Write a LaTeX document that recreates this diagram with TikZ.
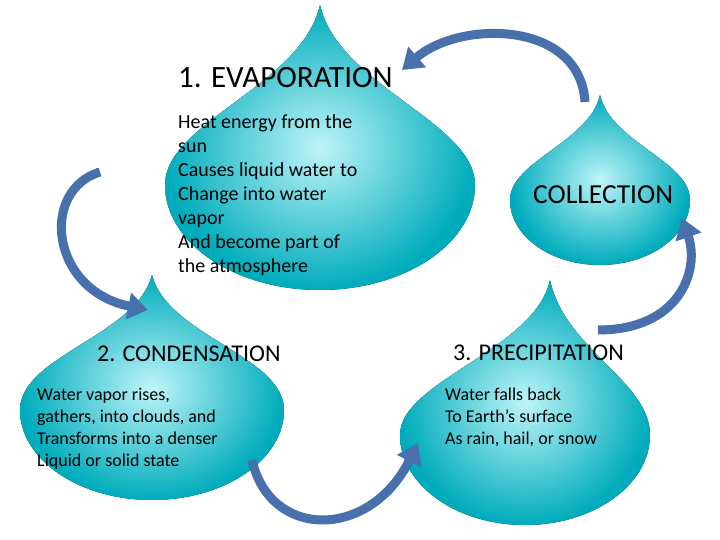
\documentclass[tikz,border=0pt]{standalone}
\usepackage{fontspec}
\setmainfont{Carlito}
\usetikzlibrary{arrows.meta}
\definecolor{dropout}{RGB}{0,172,188}
\definecolor{dropin}{RGB}{190,245,248}
\definecolor{arr}{RGB}{72,112,172}
\tikzset{
 dropfill/.style={inner color=dropin,outer color=dropout},
 flow/.style={draw=arr,line width=9pt,-{Triangle[length=20pt,width=26pt]}},
 ttl/.style={anchor=west,inner sep=0pt,font=\fontsize{24}{28}\selectfont},
 body/.style={anchor=north west,inner sep=0pt,align=left,font=\fontsize{18}{22}\selectfont}
}
\newcommand\wdrop[6]{%
\pgfmathsetmacro\Tx{#1+#6}\pgfmathsetmacro\Ty{#2-#5}%
\fill[dropfill] (\Tx,\Ty) .. controls (\Tx+0.12*#3,\Ty+0.45*#5) and (#1+#3,#2-0.6*#4) .. (#1+#3,#2)
 .. controls (#1+#3,#2+0.552*#4) and (#1+0.552*#3,#2+#4) .. (#1,#2+#4)
 .. controls (#1-0.552*#3,#2+#4) and (#1-#3,#2+0.552*#4) .. (#1-#3,#2)
 .. controls (#1-#3,#2-0.6*#4) and (\Tx-0.12*#3,\Ty+0.45*#5) .. cycle;}
\begin{document}
\begin{tikzpicture}[x=1pt,y=-1pt]
\useasboundingbox (0,0) rectangle (720,540);
\fill[white] (0,0) rectangle (720,540);
\wdrop{320}{185}{155}{105}{180}{0}
\wdrop{600}{200}{90}{65}{105}{0}
\wdrop{152}{410}{132}{90}{135}{0}
\wdrop{525}{435}{125}{90}{155}{25}
% texts
\node[ttl,font=\fontsize{31}{34}\selectfont] (t1) at (178,78) {1. EVAPORATION};
\node[body,font=\fontsize{20}{24}\selectfont] (b1) at (178,114) {Heat energy from the\\sun\\Causes liquid water to\\Change into water\\vapor\\And become part of\\the atmosphere};
\node[ttl,font=\fontsize{27.5}{30}\selectfont] (tc) at (533,195) {COLLECTION};
\node[ttl] (t2) at (97,354) {2. CONDENSATION};
\node[body] (b2) at (37,388) {Water vapor rises,\\gathers, into clouds, and\\Transforms into a denser\\Liquid or solid state};
\node[ttl] (t3) at (453,353) {3. PRECIPITATION};
\node[body] (b3) at (445,388) {Water falls back\\To Earth’s surface\\As rain, hail, or snow};
% arrows
\coordinate (a1s) at (585,102); \coordinate (a1e) at (402,70);
\coordinate (a2s) at (598,330); \coordinate (a2e) at (682,218);
\coordinate (a3s) at (252,460); \coordinate (a3e) at (418,443);
\coordinate (a4s) at (100,172); \coordinate (a4e) at (148,310);
\draw[flow] (a1s) .. controls (580,20) and (460,20) .. (a1e);
\draw[flow] (a2s) .. controls (680,330) and (700,270) .. (a2e);
\draw[flow] (a3s) .. controls (270,540) and (370,540) .. (a3e);
\draw[flow] (a4s) .. controls (40,190) and (50,290) .. (a4e);
\end{tikzpicture}
\end{document}
